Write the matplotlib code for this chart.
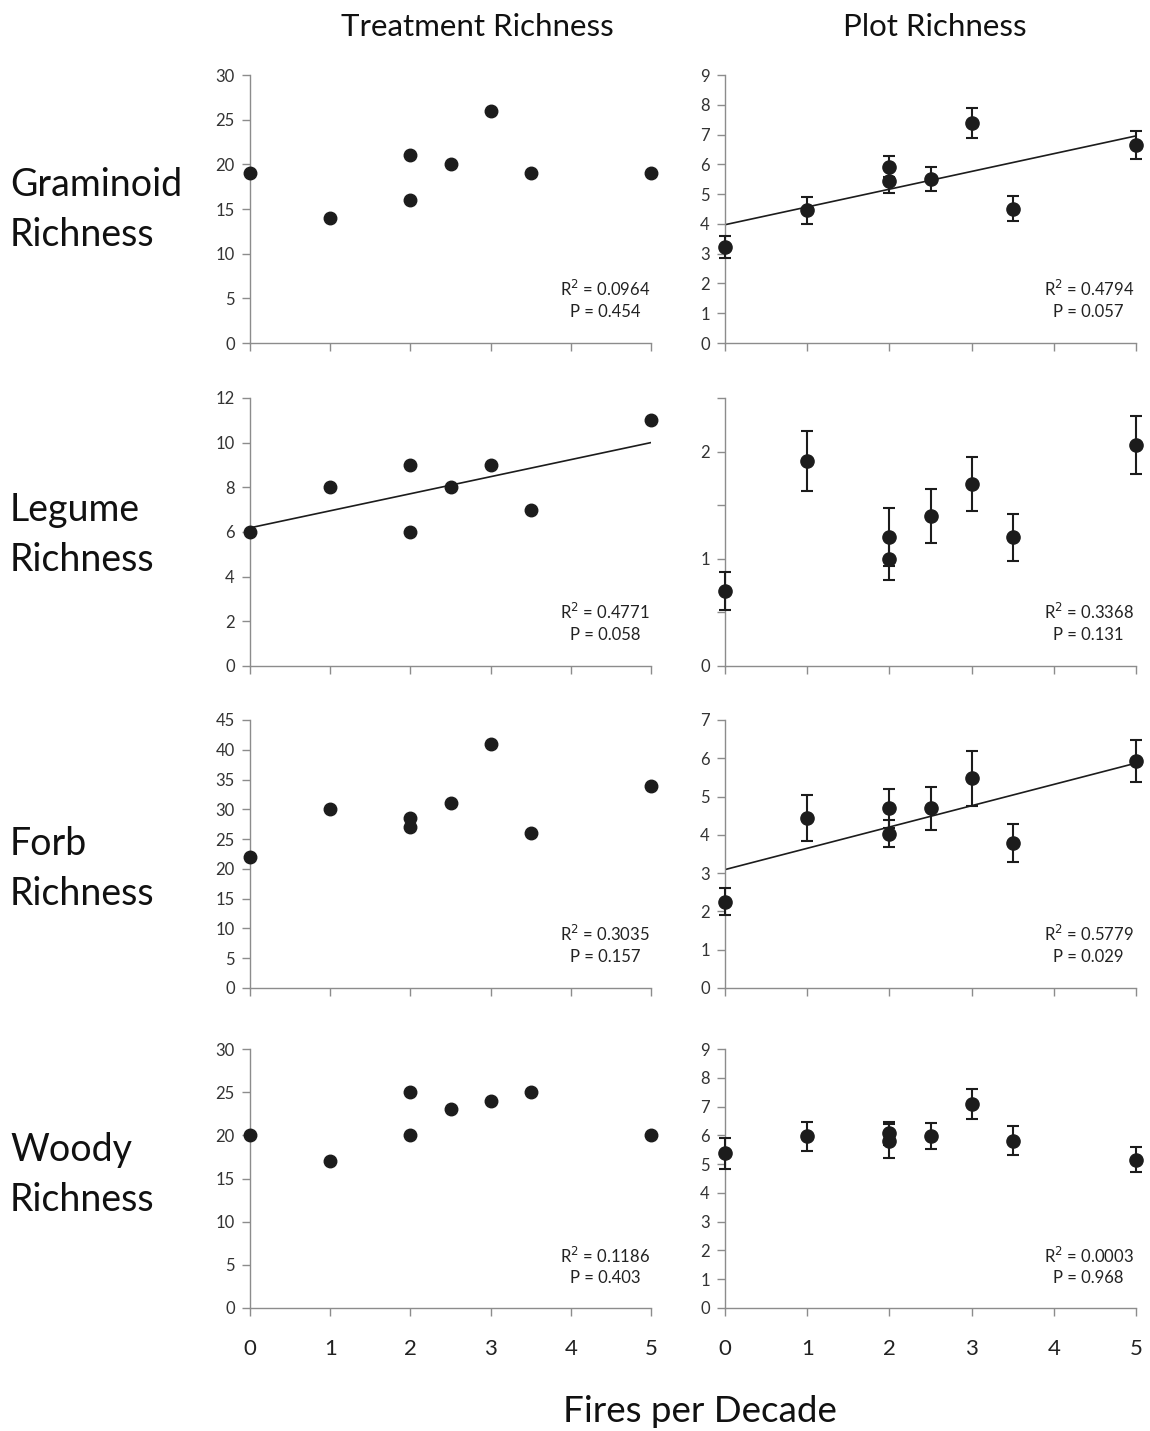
import numpy as np
import matplotlib
matplotlib.use("Agg")
import matplotlib.pyplot as plt
from matplotlib.ticker import FuncFormatter

plt.rcParams['font.family'] = ['Lato', 'DejaVu Sans']

# Fires per decade for each of the 8 treatments
fires = [0, 1, 2, 2, 2.5, 3, 3.5, 5]

# Treatment richness (total species per treatment)
gram_treat = [19, 14, 21, 16, 20, 26, 19, 19]
leg_treat = [6, 8, 9, 6, 8, 9, 7, 11]
forb_treat = [22, 30, 28.5, 27, 31, 41, 26, 34]
woody_treat = [20, 17, 25, 20, 23, 24, 25, 20]

# Plot richness (mean and standard error)
gram_plot = [3.23, 4.46, 5.92, 5.45, 5.5, 7.39, 4.51, 6.65]
gram_plot_se = [0.36, 0.45, 0.35, 0.42, 0.4, 0.5, 0.42, 0.47]
leg_plot = [0.7, 1.91, 1.2, 1.0, 1.4, 1.7, 1.2, 2.06]
leg_plot_se = [0.18, 0.28, 0.27, 0.2, 0.25, 0.25, 0.22, 0.27]
forb_plot = [2.25, 4.45, 4.69, 4.03, 4.69, 5.48, 3.79, 5.93]
forb_plot_se = [0.35, 0.6, 0.52, 0.36, 0.56, 0.72, 0.5, 0.56]
woody_plot = [5.37, 5.97, 6.08, 5.81, 5.97, 7.09, 5.82, 5.16]
woody_plot_se = [0.54, 0.5, 0.4, 0.6, 0.45, 0.52, 0.5, 0.42]

# Regression statistics
stats_treat = [("0.0964", "0.454"), ("0.4771", "0.058"),
               ("0.3035", "0.157"), ("0.1186", "0.403")]
stats_plot = [("0.4794", "0.057"), ("0.3368", "0.131"),
              ("0.5779", "0.029"), ("0.0003", "0.968")]
fit_treat = [False, True, False, False]
fit_plot = [True, False, True, False]

row_names = ["Graminoid\nRichness", "Legume\nRichness",
             "Forb\nRichness", "Woody\nRichness"]
ylim_treat = [(30, 5), (12, 2), (45, 5), (30, 5)]
ylim_plot = [(9, 1), (2.5, 0.5), (7, 1), (9, 1)]

treat_vals = [gram_treat, leg_treat, forb_treat, woody_treat]
plot_vals = [gram_plot, leg_plot, forb_plot, woody_plot]
plot_errs = [gram_plot_se, leg_plot_se, forb_plot_se, woody_plot_se]

W, H = 1150, 1431
fig = plt.figure(figsize=(W / 100, H / 100), dpi=100)

rows_px = [(75, 343), (398, 666), (720, 988), (1049, 1308)]
cols_px = [(250, 651), (725, 1136)]
label_y = [210, 535, 869, 1175]

dark = "#1c1c1c"
spine_col = "#8c8c8c"


def style_axis(ax, ymax, step, bottom_row, int_labels=False):
    ax.set_xlim(0, 5)
    ax.set_ylim(0, ymax)
    ax.set_xticks(range(6))
    ax.set_yticks(np.arange(0, ymax + step / 2, step))
    for s in ["top", "right"]:
        ax.spines[s].set_visible(False)
    for s in ["left", "bottom"]:
        ax.spines[s].set_color(spine_col)
        ax.spines[s].set_linewidth(1.0)
    ax.tick_params(axis="both", direction="out", length=6, width=1.0,
                   color=spine_col)
    ax.tick_params(axis="y", labelsize=12, labelcolor="#333333", pad=5)
    if int_labels:
        ax.yaxis.set_major_formatter(FuncFormatter(
            lambda v, p: f"{v:.0f}" if abs(v - round(v)) < 1e-6 else ""))
    if bottom_row:
        ax.tick_params(axis="x", labelsize=16, labelcolor="#222222", pad=16)
    else:
        ax.tick_params(axis="x", labelbottom=False)


for r in range(4):
    top, bot = rows_px[r]
    for c in range(2):
        x0, x1 = cols_px[c]
        ax = fig.add_axes([x0 / W, 1 - bot / H, (x1 - x0) / W, (bot - top) / H])
        if c == 0:
            y = treat_vals[r]
            ax.plot(fires, y, "o", color=dark, ms=9, clip_on=False, zorder=3)
            ymax, step = ylim_treat[r]
            style_axis(ax, ymax, step, r == 3)
            do_fit = fit_treat[r]
            r2, p = stats_treat[r]
        else:
            y = plot_vals[r]
            ax.errorbar(fires, y, yerr=plot_errs[r], fmt="o", color=dark,
                        ms=9.5, ecolor=dark, elinewidth=1.5, capsize=4,
                        capthick=1.5, clip_on=False, zorder=3)
            ymax, step = ylim_plot[r]
            style_axis(ax, ymax, step, r == 3, int_labels=(r == 1))
            do_fit = fit_plot[r]
            r2, p = stats_plot[r]
        if do_fit:
            slope, icpt = np.polyfit(fires, y, 1)
            xs = np.array([0, 5])
            ax.plot(xs, icpt + slope * xs, color=dark, lw=1.2, zorder=2)
        ax.text(0.885, 0.2, f"R$^2$ = {r2}", transform=ax.transAxes,
                ha="center", va="center", fontsize=12, color="#222222")
        ax.text(0.885, 0.115, f"P = {p}", transform=ax.transAxes,
                ha="center", va="center", fontsize=12, color="#222222")

    fig.text(10 / W, 1 - label_y[r] / H, row_names[r], ha="left",
             va="center", fontsize=27, linespacing=1.45, color="#111111")

fig.text(477 / W, 1 - 27 / H, "Treatment Richness", ha="center", va="center",
         fontsize=22.5, color="#111111")
fig.text(935 / W, 1 - 27 / H, "Plot Richness", ha="center", va="center",
         fontsize=22.5, color="#111111")
fig.text(700 / W, 1 - 1412 / H, "Fires per Decade", ha="center", va="center",
         fontsize=26.5, color="#111111")

fig.savefig("out.png", dpi=100)
